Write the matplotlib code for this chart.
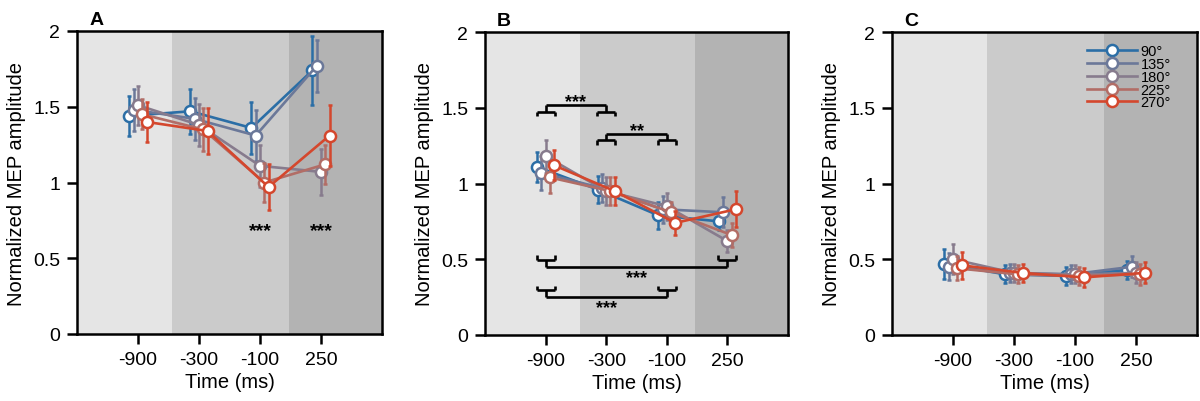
import numpy as np
import matplotlib
matplotlib.use("Agg")
import matplotlib.pyplot as plt
from matplotlib.legend_handler import HandlerLine2D

plt.rcParams['font.family'] = ['Liberation Sans', 'DejaVu Sans']

# data
times = ['-900', '-300', '-100', '250']
angles = ['90°', '135°', '180°', '225°', '270°']
colors = ['#2b6ea6', '#6b7899', '#877b8d', '#b26d66', '#d4472d']

A_mean = [[1.44, 1.47, 1.36, 1.74],
          [1.48, 1.42, 1.31, 1.77],
          [1.51, 1.38, 1.11, 1.07],
          [1.45, 1.35, 1.00, 1.12],
          [1.40, 1.34, 0.97, 1.31]]
A_err = [[0.13, 0.15, 0.17, 0.23],
         [0.14, 0.14, 0.17, 0.17],
         [0.13, 0.14, 0.14, 0.15],
         [0.10, 0.14, 0.13, 0.13],
         [0.13, 0.15, 0.15, 0.20]]

B_mean = [[1.11, 0.96, 0.79, 0.75],
          [1.07, 0.97, 0.83, 0.81],
          [1.18, 0.95, 0.85, 0.62],
          [1.04, 0.95, 0.81, 0.66],
          [1.12, 0.95, 0.74, 0.83]]
B_err = [[0.10, 0.09, 0.09, 0.06],
         [0.11, 0.09, 0.09, 0.10],
         [0.11, 0.09, 0.09, 0.07],
         [0.10, 0.09, 0.07, 0.08],
         [0.10, 0.09, 0.08, 0.12]]

C_mean = [[0.47, 0.40, 0.39, 0.43],
          [0.45, 0.41, 0.40, 0.45],
          [0.50, 0.41, 0.40, 0.41],
          [0.44, 0.40, 0.39, 0.40],
          [0.46, 0.41, 0.38, 0.41]]
C_err = [[0.10, 0.06, 0.06, 0.06],
         [0.09, 0.06, 0.06, 0.07],
         [0.10, 0.06, 0.06, 0.07],
         [0.08, 0.06, 0.06, 0.07],
         [0.09, 0.06, 0.06, 0.07]]

# significance marks
A_stars = [(2, 0.70, '***'), (3, 0.70, '***')]
B_brackets = [(0, 1, 1.52, 'up', '***'),
              (1, 2, 1.33, 'up', '**'),
              (0, 3, 0.45, 'down', '***'),
              (0, 2, 0.25, 'down', '***')]

band_edges = [0, 1.56, 3.47, 5]
band_colors = ['#e5e5e5', '#cbcbcb', '#b3b3b3']
offsets = [-0.14, -0.07, 0.0, 0.07, 0.14]


class StaggerHandler(HandlerLine2D):
    # legend marker placed at a fraction along the handle line
    def __init__(self, frac, **kw):
        super().__init__(**kw)
        self.frac = frac

    def get_xdata(self, legend, xdescent, ydescent, width, height, fontsize):
        xdata = np.array([-xdescent, -xdescent + width])
        return xdata, np.array([-xdescent + self.frac * width])


def panel(ax, mean, err, letter):
    for k in range(3):
        ax.axvspan(band_edges[k], band_edges[k + 1], color=band_colors[k], lw=0, zorder=0)
    x = np.arange(1, len(times) + 1)
    lines = []
    for i in range(len(angles)):
        eb = ax.errorbar(x + offsets[i], mean[i], yerr=err[i], color=colors[i], lw=1.9,
                         elinewidth=1.8, capsize=1.5, capthick=1.6, marker='o', ms=8,
                         mfc='white', mec=colors[i], mew=1.8, zorder=3 + i, label=angles[i])
        lines.append(eb.lines[0])
    ax.set_xlim(0, 5)
    ax.set_ylim(0, 2)
    ax.set_xticks(x)
    ax.set_xticklabels(times)
    ax.set_yticks([0, 0.5, 1, 1.5, 2])
    ax.set_yticklabels(['0', '0.5', '1', '1.5', '2'])
    ax.tick_params(direction='out', length=7, width=1.8, labelsize=14, pad=5)
    for s in ax.spines.values():
        s.set_linewidth(1.8)
    ax.set_xlabel('Time (ms)', fontsize=14.5, labelpad=3)
    ax.set_ylabel('Normalized MEP amplitude', fontsize=14.5, labelpad=5)
    ax.text(0.04, 1.01, letter, transform=ax.transAxes, fontsize=14, fontweight='bold',
            ha='left', va='bottom')
    return lines


def bracket(ax, i, j, y, side, label):
    xi, xj = i + 1, j + 1
    h, t, w = 0.045, 0.03, 0.15
    sgn = -1 if side == 'up' else 1
    kw = dict(color='black', lw=1.9, solid_capstyle='butt', zorder=10)
    ax.plot([xi, xj], [y, y], **kw)
    for xc in (xi, xj):
        ax.plot([xc, xc], [y, y + sgn * h], **kw)
        ax.plot([xc - w, xc + w], [y + sgn * h, y + sgn * h], **kw)
        ax.plot([xc - w, xc - w], [y + sgn * h, y + sgn * (h + t)], **kw)
        ax.plot([xc + w, xc + w], [y + sgn * h, y + sgn * (h + t)], **kw)
    if side == 'up':
        ax.text((xi + xj) / 2, y - 0.035, label, ha='center', va='bottom', fontsize=13,
                fontweight='bold', zorder=11)
    else:
        ax.text((xi + xj) / 2, y - 0.125, label, ha='center', va='bottom', fontsize=13,
                fontweight='bold', zorder=11)


fig = plt.figure(figsize=(12, 4.02), dpi=100)
axA = fig.add_axes([77 / 1200, 67 / 402, 305 / 1200, 303 / 402])
axB = fig.add_axes([485 / 1200, 66 / 402, 303 / 1200, 303 / 402])
axC = fig.add_axes([892 / 1200, 66 / 402, 305 / 1200, 303 / 402])

panel(axA, A_mean, A_err, 'A')
for k, y, s in A_stars:
    axA.text(k + 1, y - 0.075, s, ha='center', va='bottom', fontsize=14, fontweight='bold')

panel(axB, B_mean, B_err, 'B')
for i, j, y, side, s in B_brackets:
    bracket(axB, i, j, y, side, s)

lines = panel(axC, C_mean, C_err, 'C')
fracs = [0.31, 0.41, 0.51, 0.61, 0.73]
axC.legend(lines, angles, loc='upper left', bbox_to_anchor=(0.64, 0.96), frameon=False,
           fontsize=10.5, handlelength=3.4, handletextpad=0.25, labelspacing=-0.08,
           borderpad=0, borderaxespad=0,
           handler_map={lines[i]: StaggerHandler(fracs[i], numpoints=1) for i in range(5)})

fig.savefig('out.png', dpi=100)
